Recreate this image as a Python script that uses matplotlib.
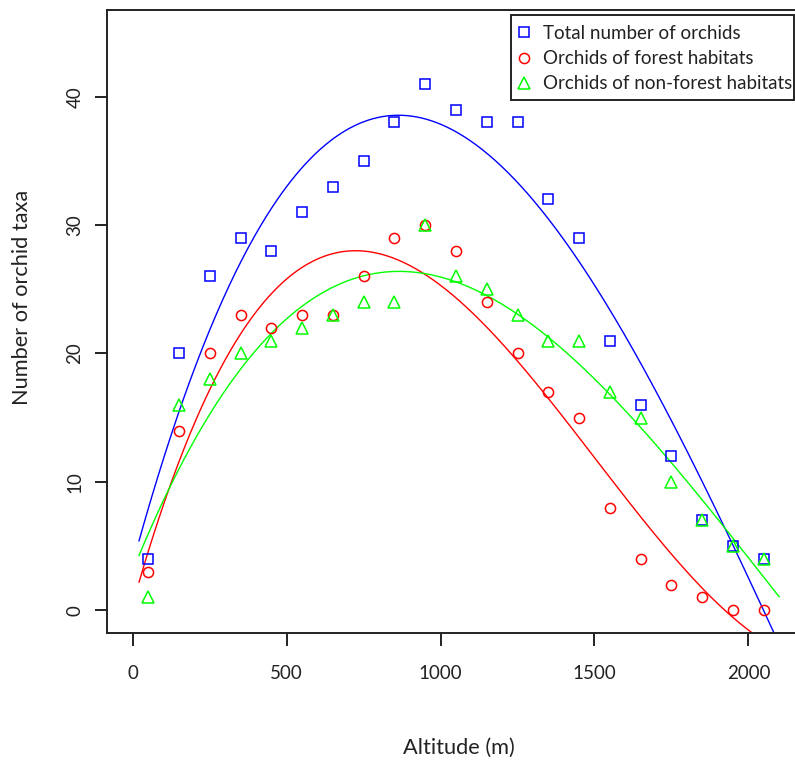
import numpy as np
import matplotlib
matplotlib.use("Agg")
import matplotlib.pyplot as plt
from matplotlib.patches import Rectangle

plt.rcParams['font.family'] = ['Lato', 'DejaVu Sans']

altitude = [50, 150, 250, 350, 450, 550, 650, 750, 850, 950, 1050,
            1150, 1250, 1350, 1450, 1550, 1650, 1750, 1850, 1950, 2050]
total = [4, 20, 26, 29, 28, 31, 33, 35, 38, 41, 39,
         38, 38, 32, 29, 21, 16, 12, 7, 5, 4]
forest = [3, 14, 20, 23, 22, 23, 23, 26, 29, 30, 28,
          24, 20, 17, 15, 8, 4, 2, 1, 0, 0]
nonforest = [1, 16, 18, 20, 21, 22, 23, 24, 24, 30, 26,
             25, 23, 21, 21, 17, 15, 10, 7, 5, 4]
labels = ["Total number of orchids", "Orchids of forest habitats",
          "Orchids of non-forest habitats"]
colors = ["#0000FF", "#FF0000", "#00FF00"]
markers = ["s", "o", "^"]
msizes = [7.0, 7.3, 9.0]

W, H = 795, 763
fig = plt.figure(figsize=(W/100, H/100), dpi=100)
ax = fig.add_axes([107/W, 129.7/H, (805-107)/W, (753.5-129.7)/H])

x = np.array(altitude, dtype=float)
xs = np.linspace(20, 2100, 400)
handles = []
for ys, c, m, ms, lab in zip([total, forest, nonforest], colors, markers, msizes, labels):
    coef = np.polyfit(x, np.array(ys, dtype=float), 3)
    ax.plot(xs, np.polyval(coef, xs), color=c, lw=1.0)
    h, = ax.plot(x, ys, linestyle='none', marker=m, markerfacecolor='none',
                 markeredgecolor=c, markersize=ms, markeredgewidth=1.1,
                 label=lab, zorder=3)
    handles.append(h)

ax.set_xlim(-84, 2184)
ax.set_ylim(-1.8, 46.8)
ax.set_xticks([0, 500, 1000, 1500, 2000])
ax.set_yticks([0, 10, 20, 30, 40])
ax.tick_params(direction='out', length=9, width=1.4, labelsize=13.5,
               colors='#222222')
ax.tick_params(axis='x', pad=14)
ax.tick_params(axis='y', pad=8)
for lab in ax.get_yticklabels():
    lab.set_rotation(90)
    lab.set_va('center')
for sp in ax.spines.values():
    sp.set_linewidth(1.4)
    sp.set_color('#222222')

fig.text(459/W, 1 - 748/H, "Altitude (m)", ha='center', va='center',
         fontsize=15.7, color='#222222')
fig.text(22/W, 1 - 297/H, "Number of orchid taxa", ha='center',
         va='center', rotation=90, fontsize=15.7, color='#222222')

leg = ax.legend(handles=handles, loc='upper left',
                bbox_to_anchor=(514.6/W, 1 - 25/H),
                bbox_transform=fig.transFigure, frameon=False,
                fontsize=13.5, handletextpad=0.51, borderpad=0,
                labelspacing=0.43, handlelength=1.0, borderaxespad=0)
for t in leg.get_texts():
    t.set_color('#222222')
fig.add_artist(Rectangle((511/W, 1 - 100/H), 283/W, 85/H,
                         transform=fig.transFigure, fill=False,
                         lw=1.4, ec='#222222'))

fig.savefig("out.png", dpi=100)
